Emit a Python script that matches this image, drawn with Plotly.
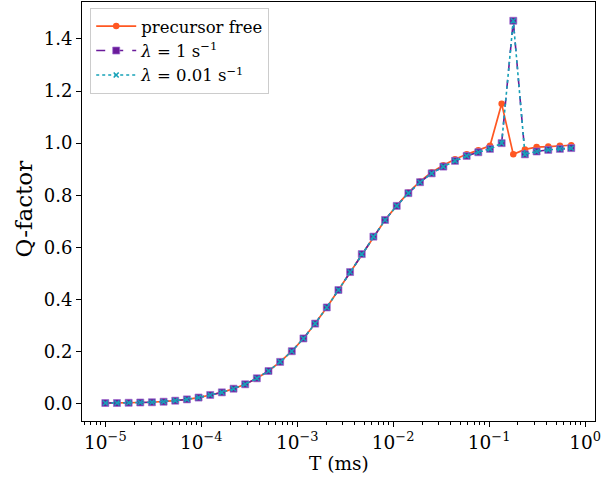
import plotly.graph_objects as go

T_ms = [1.0e-5, 1.323e-5, 1.750e-5, 2.314e-5, 3.062e-5, 4.050e-5, 5.357e-5, 7.087e-5, 9.375e-5,
        1.240e-4, 1.640e-4, 2.170e-4, 2.870e-4, 3.797e-4, 5.022e-4, 6.643e-4, 8.788e-4,
        1.162e-3, 1.538e-3, 2.034e-3, 2.690e-3, 3.559e-3, 4.708e-3, 6.228e-3, 8.238e-3,
        1.090e-2, 1.442e-2, 1.907e-2, 2.522e-2, 3.337e-2, 4.414e-2, 5.839e-2, 7.724e-2,
        0.1022, 0.1352, 0.1788, 0.2365, 0.3129, 0.4139, 0.5475, 0.7183]

q_free = [0.002, 0.002, 0.003, 0.004, 0.005, 0.007, 0.011, 0.016, 0.023, 0.033, 0.043,
          0.057, 0.074, 0.097, 0.125, 0.160, 0.201, 0.250, 0.307, 0.369, 0.436, 0.505,
          0.574, 0.641, 0.705, 0.760, 0.810, 0.853, 0.888, 0.915, 0.938, 0.957, 0.973,
          0.990, 1.151, 0.957, 0.976, 0.985, 0.987, 0.990, 0.992]

q_lam1 = [0.002, 0.002, 0.003, 0.004, 0.005, 0.007, 0.011, 0.016, 0.023, 0.033, 0.043,
          0.057, 0.074, 0.097, 0.125, 0.160, 0.201, 0.250, 0.307, 0.369, 0.436, 0.505,
          0.574, 0.641, 0.705, 0.759, 0.808, 0.850, 0.884, 0.910, 0.932, 0.951, 0.965,
          0.978, 1.000, 1.470, 0.957, 0.968, 0.974, 0.978, 0.981]

q_lam001 = list(q_lam1)

x_tickvals = [1e-5, 1e-4, 1e-3, 1e-2, 1e-1, 1e0]
x_ticktext = ["10<sup>−5</sup>", "10<sup>−4</sup>", "10<sup>−3</sup>",
              "10<sup>−2</sup>", "10<sup>−1</sup>", "10<sup>0</sup>"]
y_tickvals = [0.0, 0.2, 0.4, 0.6, 0.8, 1.0, 1.2, 1.4]
y_ticktext = ["0.0", "0.2", "0.4", "0.6", "0.8", "1.0", "1.2", "1.4"]

FONT = "DejaVu Serif"

fig = go.Figure()
fig.add_trace(go.Scatter(
    x=T_ms, y=q_free, mode="lines+markers", name="precursor free",
    line=dict(color="#ff5722", width=1.7),
    marker=dict(symbol="circle", size=6.5, color="#ff5722"),
))
fig.add_trace(go.Scatter(
    x=T_ms, y=q_lam1, mode="lines+markers", name="<i>λ</i> = 1 s<sup>−1</sup>",
    line=dict(color="#6a1b9a", width=1.6, dash="dash"),
    marker=dict(symbol="square", size=7, color="#6a1b9a",
                line=dict(color="rgba(160,110,210,0.7)", width=1)),
))
fig.add_trace(go.Scatter(
    x=T_ms, y=q_lam001, mode="lines+markers", name="<i>λ</i> = 0.01 s<sup>−1</sup>",
    line=dict(color="#17a2b8", width=1.6, dash="dot"),
    marker=dict(symbol="x-thin", size=5, color="#17a2b8",
                line=dict(color="#17a2b8", width=1.6)),
))

fig.update_layout(
    width=609, height=484,
    margin=dict(l=82, r=14, t=2, b=63, autoexpand=False),
    paper_bgcolor="white", plot_bgcolor="white",
    font=dict(family=FONT, size=17, color="black"),
    showlegend=True,
    legend=dict(
        x=0.016, y=0.986, xanchor="left", yanchor="top",
        bgcolor="rgba(255,255,255,0.8)", bordercolor="#cccccc", borderwidth=1,
        font=dict(family=FONT, size=16.5),
        tracegroupgap=0, itemwidth=40,
    ),
    xaxis=dict(
        type="log", range=[-5.243, 0.104], automargin=False,
        tickvals=x_tickvals, ticktext=x_ticktext,
        ticks="outside", ticklen=5, tickwidth=1, tickcolor="black",
        showline=True, linecolor="black", linewidth=1, mirror=True,
        showgrid=False, zeroline=False,
        tickfont=dict(family=FONT, size=18.5),
        minor=dict(ticks="outside", ticklen=3, tickcolor="black", tickwidth=1,
                   dtick="D1", showgrid=False),
    ),
    yaxis=dict(
        range=[-0.067, 1.542], automargin=False,
        tickvals=y_tickvals, ticktext=y_ticktext,
        ticks="outside", ticklen=5, tickwidth=1, tickcolor="black",
        showline=True, linecolor="black", linewidth=1, mirror=True,
        showgrid=False, zeroline=False,
        tickfont=dict(family=FONT, size=18),
    ),
    annotations=[
        dict(text="T (ms)", xref="paper", yref="paper", x=0.5, y=0,
             xanchor="center", yanchor="middle", yshift=-42, showarrow=False,
             font=dict(family=FONT, size=18.5)),
        dict(text="Q-factor", xref="paper", yref="paper", x=0, y=0.5,
             xanchor="center", yanchor="middle", xshift=-59, yshift=2, showarrow=False,
             textangle=-90, font=dict(family=FONT, size=23)),
    ],
)

fig.write_html("out.html", config={"displayModeBar": False},
               post_script="document.body.style.margin='0';")
